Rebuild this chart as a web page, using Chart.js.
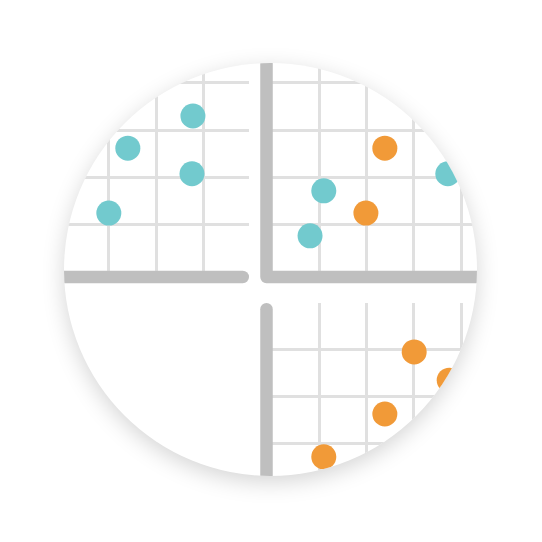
<!DOCTYPE html>
<html>
<head>
<meta charset="utf-8">
<script src="https://cdn.jsdelivr.net/npm/chart.js@4/dist/chart.umd.min.js"></script>
<style>
  html, body { margin: 0; padding: 0; background: #fff; }
  #disc {
    position: absolute; left: 64px; top: 63px; width: 413px; height: 413px;
    border-radius: 50%; overflow: hidden; background: #fff;
    box-shadow: 0 6px 22px rgba(0,0,0,0.17);
  }
  #stage { position: absolute; left: -64px; top: -63px; width: 542px; height: 542px; }
  canvas { position: absolute; }
</style>
</head>
<body>
<div id="disc">
  <div id="stage">
    <canvas id="chart-tl" width="262" height="292" style="left:0px;top:0px"></canvas>
    <canvas id="chart-tr" width="288" height="292" style="left:254px;top:0px"></canvas>
    <canvas id="chart-br" width="288" height="252" style="left:254px;top:290px"></canvas>
  </div>
</div>
<script>
    // top-left panel
    var tlTealX = [2.77, 1.40, 2.75, 1.00];
    var tlTealY = [3.30, 2.62, 2.08, 1.25];
    var tlTicksX = [-1, 0, 1, 2, 3];
    var tlTicksY = [1, 2, 3, 4, 5];

    // top-right panel
    var trTealX = [1.10, 0.81, 3.72];
    var trTealY = [1.72, 0.77, 2.08];
    var trOrangeX = [2.39, 1.99];
    var trOrangeY = [2.62, 1.25];
    var trTicksX = [1, 2, 3, 4, 5];
    var trTicksY = [1, 2, 3, 4, 5];

    // bottom-right panel
    var brOrangeX = [3.01, 2.39, 1.10, 3.75];
    var brOrangeY = [2.94, 1.62, 0.71, 2.34];
    var brTicksX = [1, 2, 3, 4, 5];
    var brTicksY = [0, 1, 2, 3];

    var teal = '#72cace';
    var orange = '#f19a38';

    function pts(xs, ys) {
      return xs.map(function (x, i) { return { x: x, y: ys[i] }; });
    }

    // thick grey axis bars with rounded caps
    var axisBars = {
      id: 'axisBars',
      beforeDatasetsDraw: function (chart, args, opts) {
        var a = chart.chartArea, ctx = chart.ctx, w = 12.5, h = w / 2;
        ctx.save();
        ctx.strokeStyle = '#bfbfbf';
        ctx.lineWidth = w;
        ctx.lineCap = 'round';
        ctx.lineJoin = 'round';
        ctx.beginPath();
        if (opts.kind === 'bottom') {
          ctx.moveTo(a.left - 30, a.bottom);
          ctx.lineTo(a.right - h, a.bottom);
        }
        if (opts.kind === 'corner') {
          ctx.moveTo(a.left, a.top - 30);
          ctx.lineTo(a.left, a.bottom);
          ctx.lineTo(a.right + 30, a.bottom);
        }
        if (opts.kind === 'left') {
          ctx.moveTo(a.left, a.top + h);
          ctx.lineTo(a.left, a.bottom + 30);
        }
        ctx.stroke();
        ctx.restore();
      }
    };

    function axis(min, max, ticks) {
      return {
        type: 'linear',
        min: min,
        max: max,
        afterBuildTicks: function (scale) {
          scale.ticks = ticks.map(function (v) { return { value: v }; });
        },
        grid: {
          display: true,
          drawTicks: false,
          color: '#e0e0e0',
          lineWidth: 3
        },
        border: { display: false },
        ticks: { display: false }
      };
    }

    function quadrant(id, pad, xr, yr, datasets, kind) {
      new Chart(document.getElementById(id).getContext('2d'), {
        type: 'scatter',
        data: { datasets: datasets },
        plugins: [axisBars],
        options: {
          responsive: false,
          animation: false,
          events: [],
          layout: { padding: pad, autoPadding: false },
          plugins: {
            legend: { display: false },
            tooltip: { enabled: false },
            axisBars: { kind: kind }
          },
          elements: {
            point: { radius: 12.5, borderWidth: 0, hoverRadius: 12.5 }
          },
          scales: {
            x: axis(xr[0], xr[1], xr[2]),
            y: axis(yr[0], yr[1], yr[2])
          }
        }
      });
    }

    quadrant('chart-tl', { left: 0, top: 0, right: 13, bottom: 15 },
      [-1.29, 3.95, tlTicksX], [-0.1, 5.75, tlTicksY],
      [{ data: pts(tlTealX, tlTealY), backgroundColor: teal }], 'bottom');

    quadrant('chart-tr', { left: 12.5, top: 0, right: 0, bottom: 15 },
      [-0.11, 5.71, trTicksX], [-0.1, 5.75, trTicksY],
      [{ data: pts(trTealX, trTealY), backgroundColor: teal },
       { data: pts(trOrangeX, trOrangeY), backgroundColor: orange }], 'corner');

    quadrant('chart-br', { left: 12.5, top: 13, right: 0, bottom: 0 },
      [-0.11, 5.71, brTicksX], [-1.1, 3.98, brTicksY],
      [{ data: pts(brOrangeX, brOrangeY), backgroundColor: orange }], 'left');
</script>
</body>
</html>
